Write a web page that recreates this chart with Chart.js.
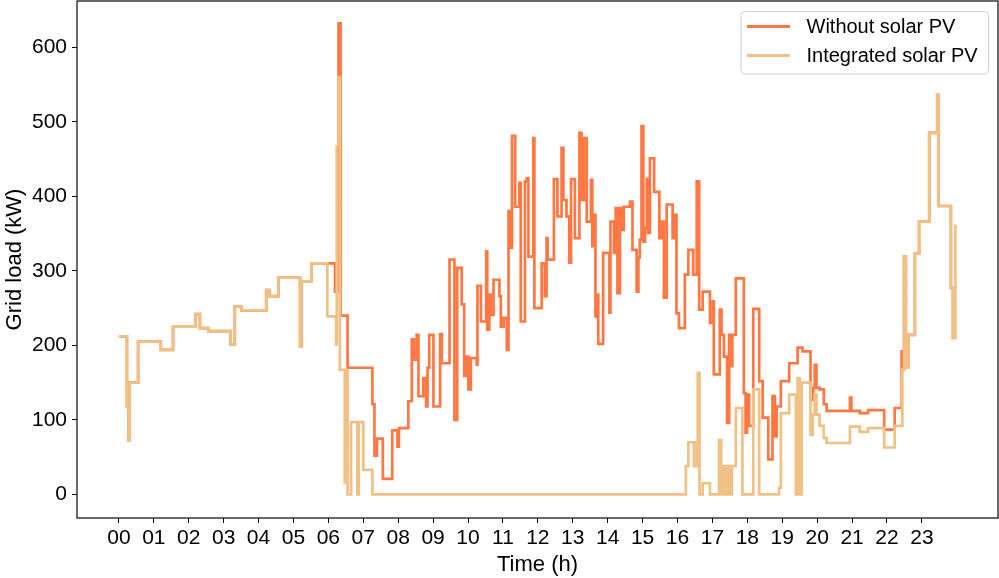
<!DOCTYPE html>
<html><head><meta charset="utf-8">
<script src="https://cdn.jsdelivr.net/npm/chart.js@4.4.1/dist/chart.umd.min.js"></script>
<style>html,body{margin:0;padding:0;background:#fff}#wrap{width:999px;height:578px}</style>
</head><body><div id="wrap"><canvas id="c" width="999" height="578"></canvas></div>
<script>
// ---- data (hours, kW) ----
const hourTicks = [0,1,2,3,4,5,6,7,8,9,10,11,12,13,14,15,16,17,18,19,20,21,22,23];
const hourLabels = ['00','01','02','03','04','05','06','07','08','09','10','11','12','13','14','15','16','17','18','19','20','21','22','23'];
const yTicks = [0,100,200,300,400,500,600];
const seriesNames = ['Without solar PV','Integrated solar PV'];

// shared night segment (both series identical)
const tNight = [0, 0.23, 0.28, 0.31, 0.55, 1.20, 1.55, 2.19, 2.32, 2.56, 3.20, 3.32, 3.51, 4.22, 4.31, 4.57, 5.19, 5.23, 5.52];
const vNight = [212, 118, 73, 150, 205, 194, 225, 242, 223, 219, 201, 252, 247, 274, 266, 291, 199, 286, 310];

// day segment, without PV
const tDayWithout = [5.97,6.19,6.29,6.35,6.55,7.26,7.32,7.39,7.56,7.83,
  7.98,8.02,8.29,8.39,8.45,8.53,8.58,8.72,8.80,8.84,
  8.89,9.01,9.20,9.25,9.47,9.61,9.69,9.82,9.89,9.96,
  10.01,10.08,10.25,10.27,10.37,10.52,10.55,10.61,10.65,10.73,
  10.90,10.94,11.02,11.11,11.16,11.20,11.26,11.35,11.47,11.51,
  11.63,11.68,11.73,11.87,11.90,12.11,12.20,12.25,12.28,12.46,
  12.56,12.68,12.73,12.82,12.90,12.95,13.06,13.19,13.25,13.32,
  13.40,13.52,13.56,13.62,13.65,13.68,13.73,13.87,14.05,14.08,
  14.18,14.23,14.28,14.35,14.42,14.46,14.64,14.71,14.83,14.88,
  14.92,14.97,15.02,15.07,15.12,15.16,15.21,15.33,15.48,15.54,
  15.61,15.69,15.86,15.90,15.97,16.04,16.21,16.31,16.45,16.55,
  16.62,16.72,16.93,17.01,17.04,17.21,17.26,17.33,17.42,17.48,
  17.53,17.57,17.67,17.90,17.95,17.99,18.05,18.17,18.34,18.44,
  18.60,18.72,18.79,18.84,18.96,19.20,19.44,19.58,19.81,19.89,
  19.93,19.98,20.07,20.19,20.27,20.94,20.98,21.22,21.46,21.92,
  22.22,22.42];
const vDayWithout = [310,272,632,240,170,121,52,75,21,86,
  64,89,125,208,181,214,132,156,118,170,
  214,118,215,176,315,100,304,255,159,185,
  141,183,174,280,232,326,221,268,241,288,
  266,225,237,194,380,331,481,386,418,232,
  420,424,319,478,250,310,266,344,315,423,
  373,465,395,373,311,423,344,485,395,478,
  366,422,333,375,239,268,202,324,244,366,
  324,384,270,384,355,386,393,328,272,318,
  342,494,339,357,423,351,451,406,344,366,
  264,389,344,375,243,223,295,328,295,420,
  248,272,230,259,161,248,214,185,96,214,
  172,214,290,136,83,134,92,249,152,103,
  47,132,78,118,152,176,197,192,127,143,
  174,143,141,121,112,130,112,109,113,87,
  116,192];

// day segment, integrated PV
const tDayIntegrated = [5.97,6.22,6.24,6.28,6.33,6.47,6.51,6.55,6.65,6.83,
  6.87,7.00,7.26,16.24,16.31,16.47,16.55,16.58,16.63,16.72,
  16.93,17.19,17.25,17.30,17.36,17.44,17.50,17.56,17.67,17.86,
  18.17,18.34,18.91,18.96,19.20,19.39,19.44,19.50,19.56,19.81,
  19.87,19.93,19.98,20.07,20.19,20.27,20.94,21.22,21.46,21.92,
  22.22];
const vDayIntegrated = [239,201,467,560,167,16,167,0,97,0,
  97,33,0,38,70,38,70,163,0,15,
  0,73,0,38,0,38,0,38,116,0,
  141,0,9,109,134,0,156,0,150,80,
  107,134,107,92,76,69,91,84,89,63,
  92];

// shared late-evening segment
const tLate = [22.44, 22.49, 22.54, 22.61, 22.80, 22.92, 23.21, 23.44, 23.47, 23.83, 23.89];
const vLate = [168, 319, 170, 214, 323, 366, 485, 536, 387, 277, 210];
const tEnd = [23.96];
const vEndWithout = [210];
const vEndIntegrated = [362];

// ---- build ----
function pts(ts, vs){ return ts.map((t,i)=>({x:t, y:vs[i]})); }
const withoutData = pts(tNight.concat(tDayWithout, tLate, tEnd), vNight.concat(vDayWithout, vLate, vEndWithout));
const integratedData = pts(tNight.concat(tDayIntegrated, tLate, tEnd), vNight.concat(vDayIntegrated, vLate, vEndIntegrated));

const COL_WITHOUT = '#ff7843';
const COL_INTEGRATED = '#f0c084';
const FONT = '"Liberation Sans", Arial, Helvetica, sans-serif';

const framePlugin = {
  id: 'frame',
  afterDatasetsDraw(chart){
    const {ctx, chartArea:a} = chart;
    ctx.save();
    ctx.strokeStyle = '#1a1a1a';
    ctx.lineWidth = 1.3;
    ctx.strokeRect(a.left, a.top, a.right - a.left, a.bottom - a.top);
    ctx.restore();
  }
};

const legendPlugin = {
  id: 'boxLegend',
  afterDraw(chart){
    const {ctx, chartArea:a} = chart;
    const w = 247.5, h = 62.5;
    const x = a.right - 10 - w, y = a.top + 10;
    ctx.save();
    ctx.beginPath();
    if (ctx.roundRect) ctx.roundRect(x + 0.5, y + 0.5, w, h, 4); else ctx.rect(x + 0.5, y + 0.5, w, h);
    ctx.fillStyle = 'rgba(255,255,255,0.8)';
    ctx.fill();
    ctx.strokeStyle = '#d0d0d0';
    ctx.lineWidth = 1;
    ctx.stroke();
    const rows = [[seriesNames[0], COL_WITHOUT], [seriesNames[1], COL_INTEGRATED]];
    rows.forEach((r, i) => {
      const cy = y + 15.5 + i * 29;
      ctx.beginPath();
      ctx.moveTo(x + 6.5, cy);
      ctx.lineTo(x + 49.5, cy);
      ctx.strokeStyle = r[1];
      ctx.lineWidth = 2.8;
      ctx.stroke();
      ctx.fillStyle = '#000';
      ctx.font = '20px ' + FONT;
      ctx.textBaseline = 'middle';
      ctx.textAlign = 'left';
      ctx.fillText(r[0], x + 66, cy + 1);
    });
    ctx.restore();
  }
};

new Chart(document.getElementById('c'), {
  type: 'line',
  data: {
    datasets: [
      { label: seriesNames[1], data: integratedData, borderColor: COL_INTEGRATED, backgroundColor: COL_INTEGRATED },
      { label: seriesNames[0], data: withoutData, borderColor: COL_WITHOUT, backgroundColor: COL_WITHOUT }
    ]
  },
  options: {
    responsive: false,
    animation: false,
    devicePixelRatio: 1,
    layout: { padding: { top: 1, right: 1, left: 0, bottom: 0 } },
    plugins: { legend: { display: false }, tooltip: { enabled: false } },
    elements: {
      point: { radius: 0, hoverRadius: 0 },
      line: { borderWidth: 2.7, stepped: 'before', tension: 0, fill: false, borderJoinStyle: 'miter', borderCapStyle: 'butt' }
    },
    scales: {
      x: {
        type: 'linear', min: -1.2, max: 25.18,
        afterBuildTicks: s => { s.ticks = hourTicks.map(v => ({ value: v })); },
        afterFit: s => { s.height = 60; s.paddingLeft = 0; s.paddingRight = 0; },
        ticks: {
          autoSkip: false, maxRotation: 0, minRotation: 0, padding: 3, color: '#000',
          font: { family: FONT, size: 21 },
          callback: v => hourLabels[hourTicks.indexOf(v)]
        },
        grid: { display: true, drawOnChartArea: false, drawTicks: true, tickLength: 5, tickColor: '#000', tickWidth: 1 },
        border: { display: false },
        title: { display: true, text: 'Time (h)', color: '#000', font: { family: FONT, size: 22 }, padding: { top: 0, bottom: 0 } }
      },
      y: {
        type: 'linear', min: -31.6, max: 662,
        afterBuildTicks: s => { s.ticks = yTicks.map(v => ({ value: v })); },
        afterFit: s => { s.width = 77; s.paddingTop = 0; s.paddingBottom = 0; },
        ticks: { padding: 5, color: '#000', font: { family: FONT, size: 21 } },
        grid: { display: true, drawOnChartArea: false, drawTicks: true, tickLength: 5, tickColor: '#000', tickWidth: 1 },
        border: { display: false },
        title: { display: true, text: 'Grid load (kW)', color: '#000', font: { family: FONT, size: 22 }, padding: { top: 2, bottom: 0 } }
      }
    }
  },
  plugins: [framePlugin, legendPlugin]
});
</script>
</body></html>
